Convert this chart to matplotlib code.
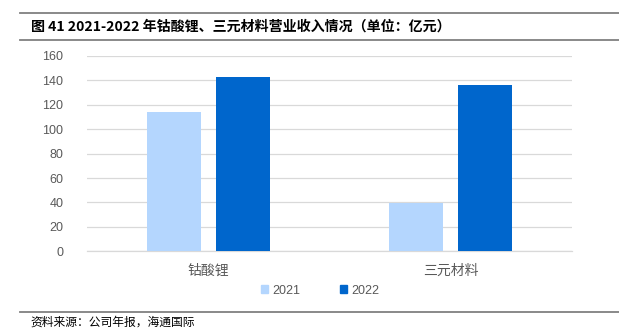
import numpy as np
import matplotlib
matplotlib.use('Agg')
import matplotlib.pyplot as plt
from matplotlib.lines import Line2D
from matplotlib.patches import Rectangle

CJK = ['Noto Sans CJK SC', 'DejaVu Sans']
LATIN = ['Liberation Sans', 'Noto Sans CJK SC']
plt.rcParams['font.family'] = CJK

categories = ['钴酸锂', '三元材料']
series_names = ['2021', '2022']
revenue_2021 = [114.3, 39.8]
revenue_2022 = [143.0, 136.3]
y_ticks = [0, 20, 40, 60, 80, 100, 120, 140, 160]

title_text = '图 41 2021-2022 年钴酸锂、三元材料营业收入情况（单位：亿元）'
source_text = '资料来源：公司年报，海通国际'

LIGHT = '#B4D6FE'
DARK = '#0066CC'
GRID = '#D9D9D9'
TICK = '#595959'

W, H = 619, 336
fig = plt.figure(figsize=(W / 100, H / 100), dpi=100)
fig.patch.set_facecolor('white')


def px(x, y):
    """Pixel coords (top-left origin) -> figure fraction."""
    return x / W, 1 - y / H


# header and footer rules
for y in [12.5, 39.5, 311.5]:
    x0, yy = px(20, y)
    x1, _ = px(619, y)
    fig.add_artist(Line2D([x0, x1], [yy, yy], color='#808080', lw=1.3))

tx, ty = px(31, 26.5)
fig.text(tx, ty, title_text, fontsize=10.1, fontweight='bold', ha='left', va='center',
         family=CJK, color='black')
sx, sy = px(30, 322)
fig.text(sx, sy, source_text, fontsize=8.5, ha='left', va='center', family=CJK, color='black')

# plot area
left, top = px(87, 56)
right, bottom = px(572, 251.3)
ax = fig.add_axes([left, bottom, right - left, top - bottom])

x = np.arange(len(categories))
width = 0.222
offset = 0.142
ax.bar(x - offset, revenue_2021, width, color=LIGHT, label=series_names[0], zorder=3)
ax.bar(x + offset, revenue_2022, width, color=DARK, label=series_names[1], zorder=3)

ax.set_xlim(-0.5, len(categories) - 0.5)
ax.set_ylim(0, 160)
ax.set_yticks(y_ticks)
ax.set_yticklabels([str(v) for v in y_ticks], family=LATIN, fontsize=9, color=TICK)
ax.set_xticks(x)
ax.set_xticklabels(categories, family=CJK, fontsize=10, color=TICK)
ax.tick_params(axis='both', length=0)
ax.tick_params(axis='y', pad=17)
ax.tick_params(axis='x', pad=9)
ax.grid(axis='y', color=GRID, lw=0.9, zorder=0)
for side in ['top', 'right', 'left']:
    ax.spines[side].set_visible(False)
ax.spines['bottom'].set_color(GRID)
ax.spines['bottom'].set_linewidth(0.9)

# legend
handles = [Rectangle((0, 0), 1, 1, color=LIGHT), Rectangle((0, 0), 1, 1, color=DARK)]
lx, ly = px(320, 290.5)
leg = fig.legend(handles, series_names, loc='center', bbox_to_anchor=(lx, ly), ncol=2,
                 frameon=False, handlelength=0.55, handleheight=0.55, handletextpad=0.35,
                 columnspacing=3.2, prop={'family': LATIN, 'size': 9})
for t in leg.get_texts():
    t.set_color(TICK)

fig.savefig('out.png', dpi=100)
